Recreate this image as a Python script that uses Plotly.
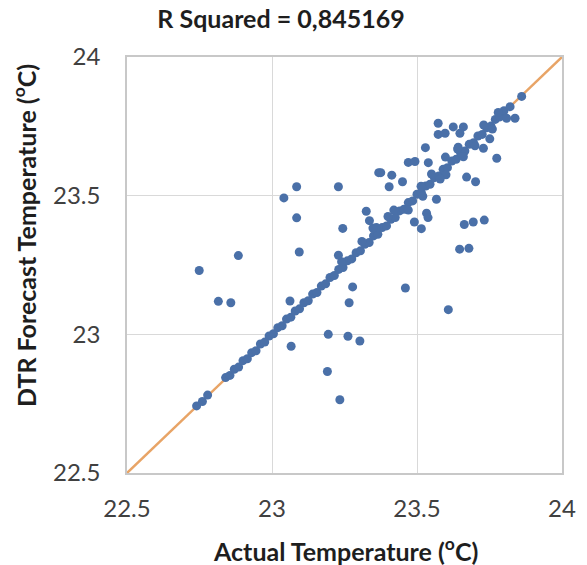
import plotly.graph_objects as go

# Off-diagonal points (actual, forecast)
outlier_x = [23.085, 23.229, 23.041, 23.085, 23.244, 23.094, 22.884, 23.229, 22.749, 22.815,
             22.858, 23.062, 23.066, 23.194, 23.262, 23.303, 23.191, 23.234, 23.278, 23.266,
             23.460, 23.608, 23.647, 23.679, 23.838, 23.809, 23.573, 23.625, 23.660, 23.573,
             23.597, 23.648, 23.529, 23.642, 23.751, 23.729, 23.775, 23.598, 23.539, 23.470,
             23.493, 23.368, 23.375, 23.413, 23.404, 23.450, 23.671, 23.702, 23.514, 23.567,
             23.325, 23.336, 23.348, 23.533, 23.538, 23.491, 23.515, 23.663, 23.694, 23.732]
outlier_y = [23.532, 23.532, 23.492, 23.420, 23.382, 23.297, 23.284, 23.285, 23.230, 23.119,
             23.114, 23.120, 22.957, 23.000, 22.993, 22.976, 22.866, 22.764, 23.171, 23.114,
             23.167, 23.089, 23.307, 23.310, 23.779, 23.779, 23.761, 23.748, 23.748, 23.721,
             23.725, 23.725, 23.673, 23.675, 23.705, 23.671, 23.635, 23.639, 23.619, 23.620,
             23.623, 23.583, 23.583, 23.574, 23.532, 23.550, 23.567, 23.550, 23.534, 23.487,
             23.444, 23.410, 23.383, 23.437, 23.421, 23.405, 23.381, 23.396, 23.405, 23.412]

# Near-diagonal points (actual, forecast)
diag_x = [22.740, 22.760, 22.778, 22.840, 22.855, 22.870, 22.885, 22.900, 22.915, 22.930,
          22.945, 22.960, 22.975, 22.990, 23.005, 23.020, 23.035, 23.050, 23.065, 23.080,
          23.095, 23.110, 23.125, 23.140, 23.155, 23.170, 23.185, 23.200, 23.215, 23.230,
          23.245, 23.260, 23.275, 23.290, 23.305, 23.320, 23.335, 23.350, 23.365, 23.380,
          23.395, 23.410, 23.425, 23.440, 23.455, 23.470, 23.485, 23.500, 23.515, 23.530,
          23.545, 23.560, 23.575, 23.590, 23.605, 23.620, 23.635, 23.650, 23.665, 23.680,
          23.695, 23.710, 23.725, 23.740, 23.755, 23.770, 23.786, 23.800, 23.821, 23.861,
          23.310, 23.360, 23.420, 23.470, 23.520, 23.550, 23.600, 23.640, 23.700, 23.730,
          23.760, 23.780, 23.240, 23.400, 23.580, 23.660]
diag_y = [22.742, 22.758, 22.781, 22.844, 22.852, 22.874, 22.882, 22.905, 22.912, 22.934,
          22.941, 22.965, 22.972, 22.994, 23.002, 23.024, 23.031, 23.055, 23.062, 23.084,
          23.092, 23.114, 23.121, 23.145, 23.151, 23.174, 23.182, 23.205, 23.212, 23.234,
          23.241, 23.265, 23.272, 23.294, 23.301, 23.325, 23.331, 23.355, 23.361, 23.385,
          23.391, 23.415, 23.421, 23.445, 23.451, 23.475, 23.481, 23.505, 23.511, 23.535,
          23.541, 23.565, 23.571, 23.595, 23.601, 23.625, 23.631, 23.655, 23.661, 23.685,
          23.691, 23.715, 23.721, 23.745, 23.751, 23.775, 23.784, 23.806, 23.821, 23.858,
          23.335, 23.385, 23.448, 23.448, 23.498, 23.578, 23.575, 23.668, 23.680, 23.755,
          23.740, 23.800, 23.262, 23.425, 23.560, 23.640]

line_x = [22.5, 24.0]
line_y = [22.5, 24.0]

title_text = "R Squared = 0,845169"
x_title = "Actual Temperature (<sup>o</sup>C)"
y_title = "DTR Forecast Temperature (<sup>o</sup>C)"
tick_vals = [22.5, 23.0, 23.5, 24.0]
tick_text = ["22.5", "23", "23.5", "24"]

FONT = "Lato"
L, R, T, B = 127, 25, 57, 92
W, H = 587, 565
PW, PH = W - L - R, H - T - B

fig = go.Figure()
fig.add_trace(go.Scatter(x=line_x, y=line_y, mode="lines",
                         line=dict(color="#E8A466", width=2.5), hoverinfo="skip"))
fig.add_trace(go.Scatter(x=diag_x + outlier_x, y=diag_y + outlier_y, mode="markers",
                         marker=dict(color="#4A70A8", size=9, line=dict(width=0))))

axis_common = dict(range=[22.5, 24.0], tickvals=tick_vals, ticktext=tick_text,
                   showgrid=True, gridcolor="#D9D9D9", gridwidth=1,
                   showline=True, linecolor="#C8C8C8", linewidth=1.5, mirror=True,
                   zeroline=False, ticks="",
                   tickfont=dict(family=FONT, size=24, color="#404040"))

fig.update_layout(
    width=W, height=H,
    margin=dict(l=L, r=R, t=T, b=B),
    paper_bgcolor="white", plot_bgcolor="white",
    showlegend=False,
    title=dict(text="<b>" + title_text + "</b>", x=281 / W, xanchor="center",
               y=1 - 19 / H, yanchor="middle", xref="container", yref="container",
               font=dict(family=FONT, size=25, color="#1E1E1E")),
    xaxis=dict(axis_common, ticklabelstandoff=13),
    yaxis=dict(axis_common, ticklabelstandoff=20),
    annotations=[
        dict(text="<b>" + x_title + "</b>", xref="paper", yref="paper",
             x=(345 - L) / PW, y=(H - B - 549) / PH, xanchor="center", yanchor="middle",
             showarrow=False, font=dict(family=FONT, size=25, color="#1E1E1E")),
        dict(text="<b>" + y_title + "</b>", xref="paper", yref="paper",
             x=(24 - L) / PW, y=(H - B - 236) / PH, xanchor="center", yanchor="middle",
             textangle=-90, showarrow=False,
             font=dict(family=FONT, size=25, color="#1E1E1E")),
    ],
)

fig.write_html("out.html")
